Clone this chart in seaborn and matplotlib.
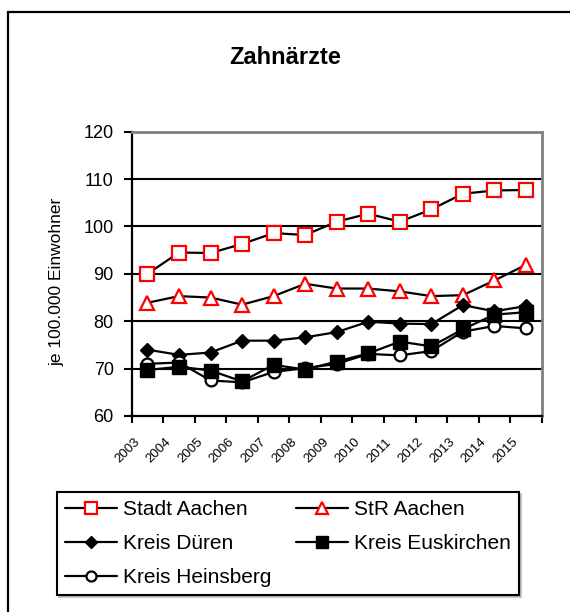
import matplotlib
matplotlib.use("Agg")
import matplotlib.pyplot as plt
import matplotlib.transforms as mtransforms
import seaborn as sns
from matplotlib.patches import Rectangle
from matplotlib.ticker import FixedLocator, NullFormatter

# Zahnärzte je 100.000 Einwohner, 2003-2015
years = list(range(2003, 2016))
stadt_aachen = [90.0, 94.5, 94.4, 96.3, 98.6, 98.2, 101.0, 102.7, 101.0, 103.6, 106.9, 107.6, 107.7]
str_aachen = [83.9, 85.3, 85.0, 83.5, 85.3, 87.9, 86.9, 86.9, 86.3, 85.3, 85.5, 88.6, 91.9]
kreis_dueren = [74.0, 72.9, 73.4, 75.9, 75.9, 76.6, 77.7, 79.9, 79.5, 79.4, 83.4, 82.1, 83.2]
kreis_heinsberg = [71.0, 71.3, 67.5, 67.1, 69.3, 70.1, 71.0, 73.1, 72.8, 73.7, 77.8, 79.0, 78.5]
kreis_euskirchen = [69.7, 70.4, 69.6, 67.3, 70.8, 69.8, 71.5, 73.2, 75.7, 74.7, 78.3, 81.4, 81.9]

title = "Zahnärzte"
y_label = "je 100.000 Einwohner"
y_ticks = [60, 70, 80, 90, 100, 110, 120]

sns.set_theme(style="white")
plt.rcParams['font.family'] = ['Liberation Sans', 'DejaVu Sans']
plt.rcParams.update({"text.color": "black", "xtick.color": "black",
                     "ytick.color": "black", "axes.labelcolor": "black"})

fig = plt.figure(figsize=(5.7, 6.12), dpi=100)
ax = fig.add_axes([131.7 / 570, 1 - 416 / 612, 410 / 570, (416 - 131.7) / 612])

series = [
    ("Stadt Aachen", stadt_aachen, dict(marker="s", markersize=9.5, markeredgecolor="red",
                                        markerfacecolor="white", markeredgewidth=1.6), 3),
    ("StR Aachen", str_aachen, dict(marker="^", markersize=10.5, markeredgecolor="red",
                                    markerfacecolor="white", markeredgewidth=1.6), 3),
    ("Kreis Düren", kreis_dueren, dict(marker="D", markersize=7.5, markeredgecolor="black",
                                       markerfacecolor="black", markeredgewidth=1.0), 3),
    ("Kreis Heinsberg", kreis_heinsberg, dict(marker="o", markersize=8.5, markeredgecolor="black",
                                              markerfacecolor="white", markeredgewidth=1.6), 3),
    ("Kreis Euskirchen", kreis_euskirchen, dict(marker="s", markersize=9.5, markeredgecolor="black",
                                                markerfacecolor="black", markeredgewidth=1.0), 4),
]

handles = {}
for name, vals, style, z in series:
    sns.lineplot(x=years, y=vals, ax=ax, color="black", linewidth=1.6,
                 legend=False, zorder=z, **style)
    line = ax.lines[-1]
    line.set_label(name)
    handles[name] = line

# axes limits and grid
ax.set_xlim(2002.5, 2015.5)
ax.set_ylim(60, 120)
ax.set_yticks(y_ticks)
for v in y_ticks[1:-1]:
    ax.axhline(v, color="black", linewidth=1.5, zorder=1)

# category boundaries carry the tick marks
ax.xaxis.set_major_locator(FixedLocator([y - 0.5 for y in years] + [years[-1] + 0.5]))
ax.xaxis.set_major_formatter(NullFormatter())
ax.tick_params(axis="x", which="major", length=5, width=1.5, color="black", direction="out", bottom=True)
ax.tick_params(axis="y", length=6, width=1.5, color="black", direction="out", left=True,
               labelsize=13, pad=7)

# year labels at the category centres, rotated
year_tr = mtransforms.offset_copy(ax.get_xaxis_transform(), fig=fig, x=-14, y=-20, units="dots")
for yr in years:
    ax.text(yr, 0, str(yr), transform=year_tr, rotation=45, rotation_mode="anchor",
            ha="right", va="top", fontsize=9.5, color="black", clip_on=False)

ax.set_xlabel("")
ax.set_ylabel("")
for side in ("left", "bottom"):
    ax.spines[side].set_color("black")
    ax.spines[side].set_linewidth(1.6)
for side in ("top", "right"):
    ax.spines[side].set_color("#808080")
    ax.spines[side].set_linewidth(2.0)

fig.text(0.5, 1 - 57 / 612, title, ha="center", va="center", fontsize=17, fontweight="bold")
fig.text(57 / 570, 1 - 282 / 612, y_label, rotation=90, ha="center", va="center", fontsize=12.5)

order = ["Stadt Aachen", "Kreis Düren", "Kreis Heinsberg", "StR Aachen", "Kreis Euskirchen"]
leg = fig.legend([handles[n] for n in order], order, loc="center",
                 bbox_to_anchor=(288 / 570, 1 - 543.5 / 612), ncol=2, frameon=True,
                 fancybox=False, edgecolor="black", fontsize=15, handlelength=2.5,
                 handletextpad=0.3, columnspacing=1.15, labelspacing=0.72, borderpad=0.4,
                 markerscale=0.85, shadow={"color": "0.6", "ox": 1.5, "oy": -1.5})
leg.get_frame().set_linewidth(1.5)
leg.get_frame().set_facecolor("white")

# outer chart frame
fig.patches.append(Rectangle((8 / 570, -0.05), 1.1, 1 - 12 / 612 + 0.05, transform=fig.transFigure,
                             fill=False, edgecolor="black", linewidth=1.6))

fig.savefig("out.png", dpi=100, facecolor="white")
